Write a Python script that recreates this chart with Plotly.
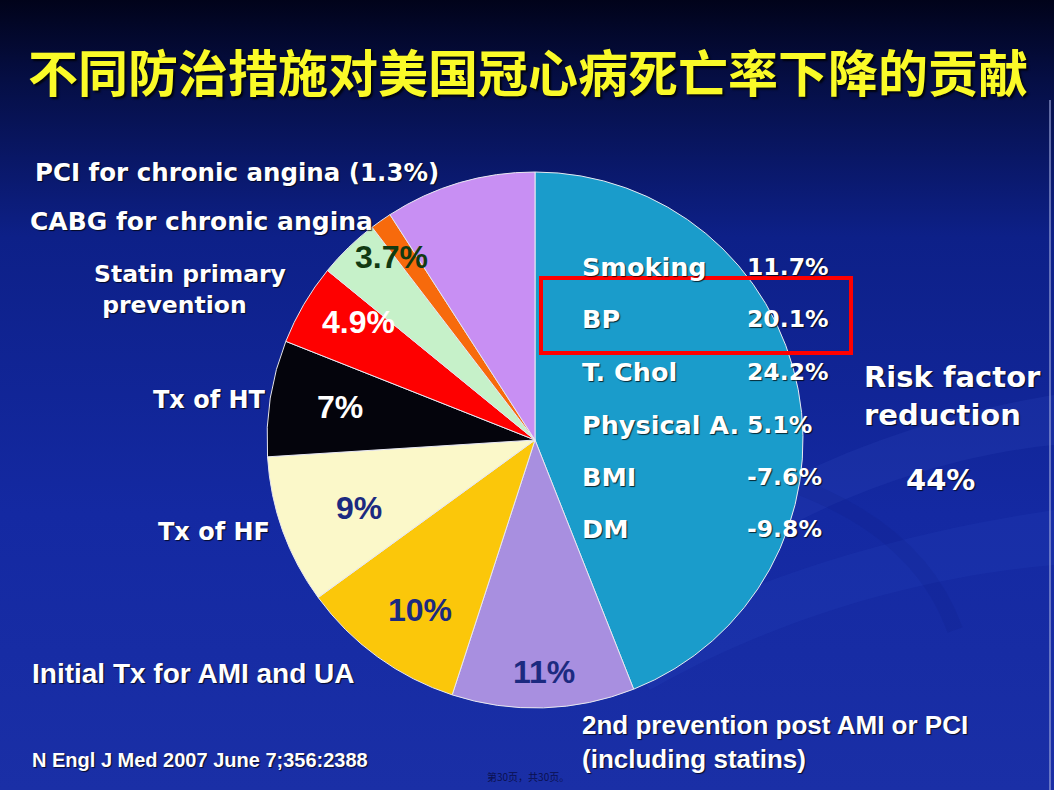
import base64
import plotly.graph_objects as go

# slices of the pie, clockwise from 12 o'clock
slice_names = ['Risk factor reduction', '2nd prevention post AMI or PCI (including statins)',
               'Initial Tx for AMI and UA', 'Tx of HF', 'Tx of HT', 'Statin primary prevention',
               'CABG for chronic angina', 'PCI for chronic angina', 'Other']
slice_values = [44, 11, 10, 9, 7, 4.9, 3.7, 1.3, 9.1]
slice_colors = ['#1a9ccb', '#a88fe0', '#fbc70a', '#fbf8c9', '#04040c', '#fe0000',
                '#c6f1c9', '#f76a0c', '#c88ff3']

# risk factor break-down written inside the big slice
risk_names = ['Smoking', 'BP', 'T. Chol', 'Physical A.', 'BMI', 'DM']
risk_values = [11.7, 20.1, 24.2, 5.1, -7.6, -9.8]

W, H = 1054, 790


def px(x):
    return x / W


def py(y):
    return 1 - y / H


# background gradient + soft swooshes as an svg picture
svg = f'''<svg xmlns="http://www.w3.org/2000/svg" width="{W}" height="{H}" viewBox="0 0 {W} {H}" preserveAspectRatio="none">
<defs><linearGradient id="g" x1="0" y1="0" x2="0" y2="1">
<stop offset="0" stop-color="#01031a"/>
<stop offset="0.1" stop-color="#050e44"/>
<stop offset="0.3" stop-color="#0d2088"/>
<stop offset="0.65" stop-color="#1429a2"/>
<stop offset="1" stop-color="#1a2fa6"/>
</linearGradient></defs>
<rect width="{W}" height="{H}" fill="url(#g)"/>
<path d="M 700 530 C 820 450, 960 410, 1054 395 L 1054 445 C 950 455, 830 495, 720 565 Z" fill="#2a44b8" opacity="0.25"/>
<path d="M 620 650 C 760 570, 920 530, 1054 510 L 1054 565 C 930 575, 780 615, 650 690 Z" fill="#2a46bc" opacity="0.2"/>
<path d="M 780 480 C 870 510, 930 560, 955 630" stroke="#0c1a80" stroke-width="16" fill="none" opacity="0.15"/>
<line x1="1050" y1="100" x2="1050" y2="790" stroke="#9aa4d8" stroke-width="2" opacity="0.6"/>
</svg>'''
svg_uri = 'data:image/svg+xml;base64,' + base64.b64encode(svg.encode()).decode()

fig = go.Figure()

# the pie itself (circle of radius ~268 centred at 535,440)
cx, cy, r = 535, 440, 268
fig.add_trace(go.Pie(
    labels=slice_names,
    values=slice_values,
    marker=dict(colors=slice_colors, line=dict(color='#e8e8f0', width=1)),
    sort=False,
    direction='clockwise',
    rotation=0,
    textinfo='none',
    hoverinfo='label+value',
    showlegend=False,
    domain=dict(x=[px(cx - r), px(cx + r)], y=[py(cy + r), py(cy - r)])
))

wide_font = 'DejaVu Sans, Verdana, sans-serif'
arial = 'Liberation Sans, Arial, sans-serif'
shadow = '1px 1px 1px rgba(0,0,0,0.75)'


def label(x, y, text, size, color='white', family=wide_font, xanchor='left', sh=shadow):
    fig.add_annotation(x=px(x), y=py(y), xref='paper', yref='paper', showarrow=False,
                       text=text, xanchor=xanchor, yanchor='middle', align='left',
                       font=dict(family=family, size=size, color=color, shadow=sh))


# percentages inside the slices
inner_pos = {1: (544, 672, '#1c2a80'), 2: (420, 610, '#1c2a80'), 3: (359, 508, '#1c2a80'),
             4: (340, 407, 'white'), 5: (358, 322, 'white'), 6: (391, 257, '#123a12')}
for i, (x, y, c) in inner_pos.items():
    label(x, y, f'<b>{slice_values[i]:g}%</b>', 32, color=c, family=arial,
          xanchor='center', sh='none')

# outside labels on the left / bottom
label(33, 172, f'<b>PCI for chronic angina ({slice_values[7]:g}%)</b>', 24.5)
label(28, 222, '<b>CABG for chronic angina</b>', 25)
label(92, 290, '<b>Statin primary<br> prevention</b>', 23.5)
label(268, 400, '<b>Tx of HT</b>', 24, xanchor='right')
label(272, 532, '<b>Tx of HF</b>', 24, xanchor='right')
label(30, 673, '<b>Initial Tx for AMI and UA</b>', 28, family=arial)
label(580, 742, '<b>2nd prevention post AMI or PCI<br>(including statins)</b>', 26, family=arial)

# risk factor table
row_y = [267, 319, 372, 425, 477, 529]
for name, val, y in zip(risk_names, risk_values, row_y):
    label(580, y, f'<b>{name}</b>', 25.5)
    label(745, y, f'<b>{val}%</b>', 23.5)

# highlight box round BP
fig.add_shape(type='rect', xref='paper', yref='paper',
              x0=px(541), x1=px(851), y0=py(353), y1=py(278),
              line=dict(color='#ff0000', width=4))

# big slice caption on the right
label(862, 396, '<b>Risk factor<br>reduction</b>', 29)
label(940, 480, f'<b>{slice_values[0]:g}%</b>', 29, xanchor='center')

# reference
label(30, 760, '<b>N Engl J Med 2007 June 7;356:2388</b>', 20, family=arial)

# page number
label(528, 776, '第30页，共30页。', 10, color='#0a1050', family='Noto Sans CJK SC',
      xanchor='center', sh='none')

# title
label(528, 70, '<b>不同防治措施对美国冠心病死亡率下降的贡献</b>', 50, color='#fafa28',
      family='Noto Sans CJK SC', xanchor='center', sh='2px 2px 2px rgba(0,0,0,0.8)')

fig.update_layout(
    width=W, height=H,
    margin=dict(l=0, r=0, t=0, b=0),
    paper_bgcolor='#0e2290',
    plot_bgcolor='rgba(0,0,0,0)',
    images=[dict(source=svg_uri, xref='paper', yref='paper', x=0, y=1,
                 sizex=1, sizey=1, xanchor='left', yanchor='top',
                 sizing='stretch', layer='below')]
)

fig.write_html('out.html', config={'displayModeBar': False},
               post_script="document.body.style.margin='0px';")
